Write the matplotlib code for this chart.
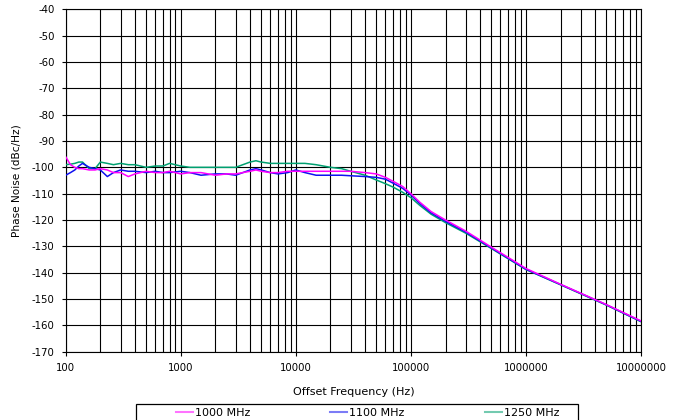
import matplotlib
matplotlib.use("Agg")
import matplotlib.pyplot as plt
from matplotlib.lines import Line2D
from matplotlib.patches import Rectangle
from matplotlib.ticker import NullFormatter, LogLocator

plt.rcParams['font.family'] = ['DejaVu Sans']
plt.rcParams['axes.unicode_minus'] = False

# Offset frequencies (Hz)
freq = [100, 110, 120, 130, 140, 160, 180, 200, 230, 260,
        300, 350, 400, 500, 600, 700, 800, 1000, 1200, 1500,
        2000, 2500, 3000, 4000, 4500, 5000, 6000, 7000, 8500, 10000,
        12000, 15000, 20000, 25000, 30000, 40000, 50000, 60000, 70000, 85000,
        100000, 120000, 150000, 200000, 300000, 500000, 700000, 1000000, 2000000, 5000000,
        10000000]

# Phase noise (dBc/Hz)
pn_1000 = [-96, -99, -100, -100.5, -100.5, -101, -101, -100.5, -101, -102,
           -102, -103.5, -102.5, -101.5, -102, -102, -101.5, -102.5, -102, -102,
           -103, -102.5, -102.5, -101.5, -101, -101.5, -102, -102, -101.5, -101.5,
           -101.5, -101.5, -101.5, -101.5, -101.5, -102, -102.5, -103.8, -105.3, -107.3,
           -110, -113.3, -116.8, -120, -124.2, -130.3, -134.2, -138.4, -144.4, -152.1,
           -158.3]
pn_1100 = [-103, -102, -101, -99.5, -98.5, -100, -100.5, -101, -103.5, -102,
           -101, -101.5, -101.5, -102, -101.5, -102, -102, -101.5, -102, -103,
           -102.5, -102.5, -103, -101, -100.5, -101, -102, -102.5, -102, -101,
           -102, -103, -103, -103, -103.2, -103.5, -103.8, -104.5, -106, -108,
           -110.5, -113.8, -117.3, -120.5, -124.6, -130.6, -134.5, -138.7, -144.5, -152.2,
           -158.5]
pn_1250 = [-99, -98.8, -98.5, -98, -98, -100.5, -100.5, -98, -98.5, -99,
           -98.5, -99, -99, -100, -99.5, -99.5, -98.5, -99.5, -100, -100,
           -100, -100, -100, -98, -97.5, -98, -98.5, -98.5, -98.5, -98.5,
           -98.5, -99, -100, -100.5, -101.5, -103, -104.8, -106.2, -107.5, -109.5,
           -111.5, -114.5, -117.8, -121, -125, -130.8, -134.7, -138.8, -144.6, -152.3,
           -158.6]

labels = ['1000 MHz', '1100 MHz', '1250 MHz']
colors = ['#FF00FF', '#1010F0', '#00A070']
series = [pn_1000, pn_1100, pn_1250]

xticks = [100, 1000, 10000, 100000, 1000000, 10000000]
xticklabels = ['100', '1000', '10000', '100000', '1000000', '10000000']
yticks = list(range(-170, -39, 10))

W, H = 681, 420
fig = plt.figure(figsize=(W / 100, H / 100), dpi=100)
ax = fig.add_axes([65.7 / W, 1 - 351.7 / H, (641 - 65.7) / W, (351.7 - 9.3) / H])

for i, (vals, c) in enumerate(zip(series, colors)):
    ax.plot(freq, vals, color=c, lw=1.1, zorder=3 - 0.1 * i)

ax.set_xscale('log')
ax.set_xlim(100, 1e7)
ax.set_ylim(-170, -40)
ax.set_xticks(xticks)
ax.set_xticklabels(xticklabels)
ax.xaxis.set_minor_locator(LogLocator(base=10, subs=range(2, 10)))
ax.xaxis.set_minor_formatter(NullFormatter())
ax.set_yticks(yticks)
ax.set_yticklabels([str(v) for v in yticks])

ax.grid(which='both', color='black', lw=0.8)
ax.set_axisbelow(True)
ax.tick_params(which='major', direction='out', length=3, width=0.8,
               labelsize=7.3, pad=5, colors='black')
ax.tick_params(which='minor', length=0)
for s in ax.spines.values():
    s.set_color('black')
    s.set_linewidth(0.8)

ax.set_xlabel('Offset Frequency (Hz)', fontsize=8, va='center')
ax.xaxis.set_label_coords(0.5, -(392 - 351.7) / (351.7 - 9.3))
ax.set_ylabel('Phase Noise (dBc/Hz)', fontsize=7.6, va='center')
ax.yaxis.set_label_coords(-(65.7 - 17) / (641 - 65.7), 0.5)

# legend
handles = [Line2D([], [], color=c, lw=1.5, alpha=0.55) for c in colors]
fig.legend(handles, labels, ncol=3, frameon=False, fontsize=8,
           loc='center left', bbox_to_anchor=(176 / W, 1 - 413 / H),
           borderpad=0, borderaxespad=0, handlelength=1.53,
           handletextpad=0.18, columnspacing=7.2)
fig.add_artist(Rectangle((136 / W, -0.05), (578 - 136) / W, 0.05 + (420 - 404) / H,
                         transform=fig.transFigure, fill=False, ec='black', lw=0.9))

fig.savefig('out.png', dpi=100)
